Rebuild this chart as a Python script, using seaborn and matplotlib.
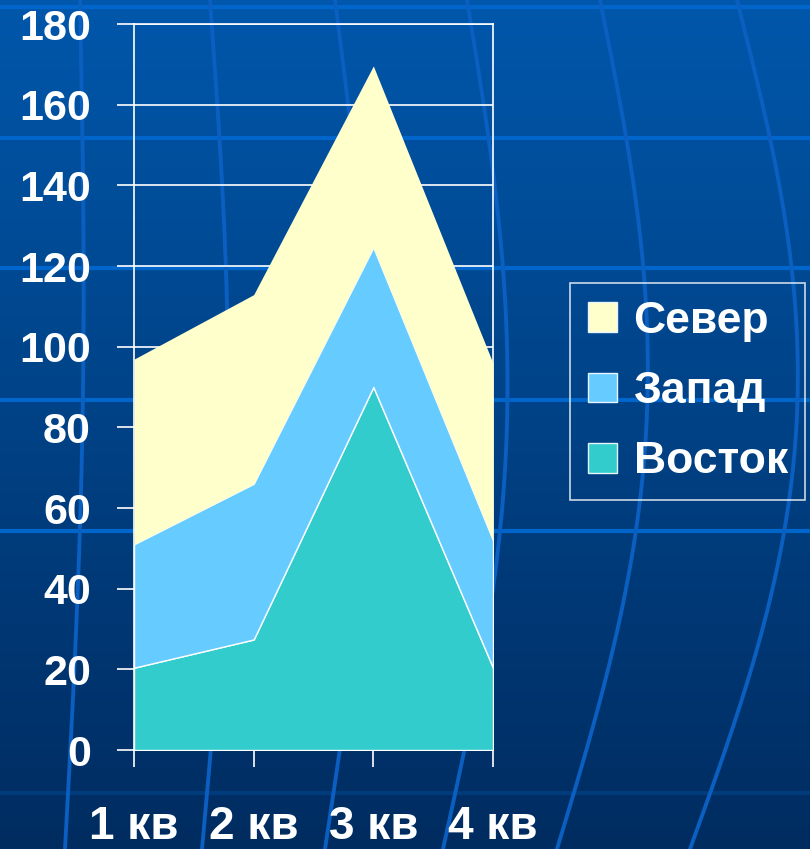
import numpy as np
import pandas as pd
import seaborn as sns
import matplotlib.pyplot as plt
from matplotlib.patches import Patch

# Datos del gráfico (áreas apiladas)
kvartaly = ['1 кв', '2 кв', '3 кв', '4 кв']
vostok = [20.4, 27.4, 90, 20.4]
zapad = [30.6, 38.6, 34.6, 31.6]
sever = [45.9, 46.9, 45, 43.9]
y_ticks = [0, 20, 40, 60, 80, 100, 120, 140, 160, 180]

df = pd.DataFrame({'Восток': vostok, 'Запад': zapad, 'Север': sever}, index=kvartaly)
colores = {'Восток': '#33CCCC', 'Запад': '#66CCFF', 'Север': '#FFFFCC'}

sns.set_theme(style='white')
plt.rcParams['font.family'] = ['Liberation Sans', 'DejaVu Sans']
plt.rcParams['font.weight'] = 'bold'

fig = plt.figure(figsize=(8.1, 8.49), dpi=100)

# Fondo azul con degradado y líneas tipo "globo"
bg = fig.add_axes([0, 0, 1, 1], zorder=0)
W, H = 810, 849
grad = np.linspace(0, 1, 256).reshape(-1, 1)
top = np.array([0x00, 0x57, 0xAB]) / 255
bot = np.array([0x00, 0x2C, 0x60]) / 255
img = top + (bot - top) * grad[..., None]
img = np.repeat(img, 2, axis=1)
bg.imshow(img, extent=[0, W, H, 0], aspect='auto')
for yy in [7, 138, 268, 400, 531]:
    bg.axhline(yy, color='#0066CC', lw=3)
bg.axhline(793, color='#003C7C', lw=3)
t = np.linspace(0, 1, 200)
for x0, x1, b in [(80, 65, 10), (210, 202, 22), (335, 325, 38), (467, 443, 52), (600, 557, 68), (737, 690, 83)]:
    bg.plot(x0 + (x1 - x0) * t + b * np.sin(np.pi * t), t * H, color='#0A5FC0', lw=2.8)
bg.set_xlim(0, W)
bg.set_ylim(H, 0)
bg.axis('off')

# Gráfico principal
ax = fig.add_axes([134 / W, 99 / H, 359 / W, 726 / H], zorder=1)
ax.set_facecolor('none')
x = np.arange(len(kvartaly))
polys = ax.stackplot(x, df['Восток'], df['Запад'], df['Север'],
                     colors=[colores[c] for c in df.columns],
                     edgecolor='white', linewidth=1, zorder=3)
polys[-1].set_linewidth(0)

ax.set_xlim(0, 3)
ax.set_ylim(0, 180)
ax.set_yticks(y_ticks)
ax.set_xticks(x)
ax.set_xticklabels(kvartaly)
ax.yaxis.grid(True, color='white', lw=1.2)
ax.xaxis.grid(False)
for s in ax.spines.values():
    s.set_color('white')
    s.set_linewidth(1.2)
ax.tick_params(axis='y', left=True, colors='white', length=12, width=1.2, pad=19, labelsize=31)
ax.tick_params(axis='x', bottom=True, colors='white', length=12.5, width=1.2, pad=27, labelsize=33)
ax.set_axisbelow(True)

# Leyenda
handles = [Patch(facecolor=colores[c], edgecolor='#E8F4FF', lw=1) for c in ['Север', 'Запад', 'Восток']]
leg = fig.legend(handles, ['Север', 'Запад', 'Восток'], loc='upper left',
                 bbox_to_anchor=(570 / W, 1 - 283 / H), borderaxespad=0, fontsize=32,
                 handlelength=0.65, handleheight=0.65, handletextpad=0.38,
                 labelspacing=0.66, borderpad=0.4, frameon=True, fancybox=False)
leg.get_frame().set_facecolor('none')
leg.get_frame().set_edgecolor('white')
leg.get_frame().set_linewidth(1.2)
for txt in leg.get_texts():
    txt.set_color('white')

plt.savefig('out.png', dpi=100)
